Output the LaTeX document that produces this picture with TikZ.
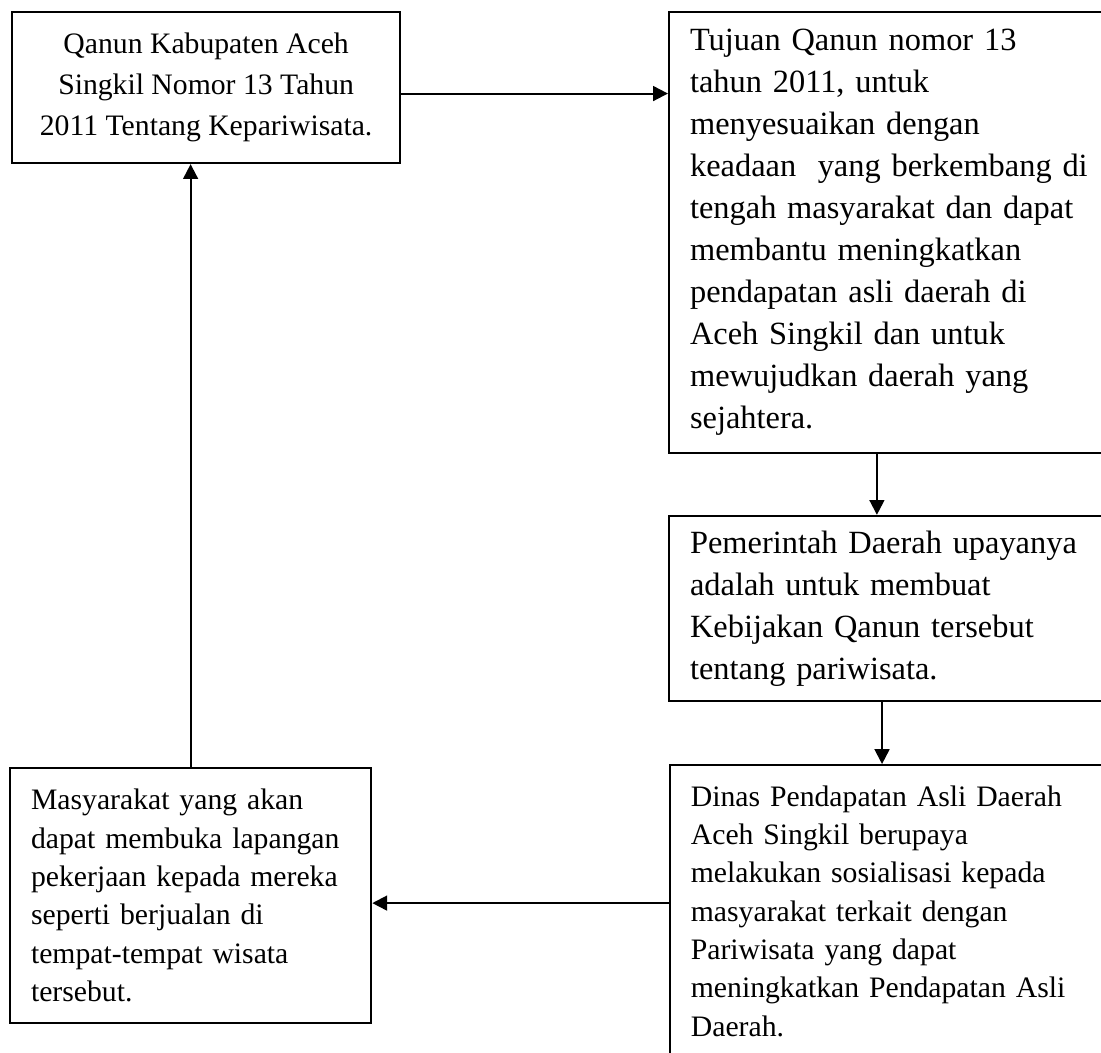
\documentclass[tikz,border=0pt]{standalone}
\usepackage{fontspec}
\setmainfont{Liberation Serif}
\usetikzlibrary{arrows.meta}
\tikzstyle{arrow} = [line width=0.75pt,-{Triangle[length=5.5pt,width=5.5pt]}]
\tikzstyle{kotak} = [draw, line width=0.8pt, anchor=north west, inner xsep=7.8pt, inner ysep=2pt]

\begin{document}
\begin{tikzpicture}[x=1pt,y=-1pt]
		\useasboundingbox (0,0) rectangle (407.8,390);
		\clip (0,0) rectangle (407.8,390);
		
		% Kotak:
		% Kotak kanan dibuat lebih lebar dari gambar, jadi sisi kanannya terpotong
		\node[kotak, minimum width=143.7pt, minimum height=55.9pt, align=center, font=\fontsize{11}{15.2}\selectfont] (qanun) at (4.1,4.1) {Qanun Kabupaten Aceh\\ Singkil Nomor 13 Tahun\\ 2011 Tentang Kepariwisata.};
		
		\node[kotak, text width=154.4pt, minimum height=163.3pt, align=left, font=\fontsize{12}{15.55}\selectfont] (tujuan) at (247.4,4.1) {Tujuan Qanun nomor 13\\ tahun 2011, untuk\\ menyesuaikan dengan\\ keadaan\ \ yang berkembang di\\ tengah masyarakat dan dapat\\ membantu meningkatkan\\ pendapatan asli daerah di\\ Aceh Singkil dan untuk\\ mewujudkan daerah yang\\ sejahtera.};
		
		\node[kotak, text width=154.4pt, minimum height=68.5pt, align=left, font=\fontsize{12}{15.55}\selectfont] (pemda) at (247.4,190.7) {Pemerintah Daerah upayanya\\ adalah untuk membuat\\ Kebijakan Qanun tersebut\\ tentang pariwisata.};
		
		\node[kotak, text width=154.4pt, minimum height=108.1pt, align=left, font=\fontsize{11}{14.2}\selectfont] (dinas) at (247.7,283) {Dinas Pendapatan Asli Daerah\\ Aceh Singkil berupaya\\ melakukan sosialisasi kepada\\ masyarakat terkait dengan\\ Pariwisata yang dapat\\ meningkatkan Pendapatan Asli\\ Daerah.};
		
		\node[kotak, text width=118.2pt, minimum height=94.4pt, align=left, font=\fontsize{11}{14.2}\selectfont] (masyarakat) at (3.3,284.1) {Masyarakat yang akan\\ dapat membuka lapangan\\ pekerjaan kepada mereka\\ seperti berjualan di\\ tempat-tempat wisata\\ tersebut.};
		
		% Panah:
		\coordinate (ab) at ([yshift=-2.2pt]qanun.east);
		\draw[arrow] (ab) -- (ab -| tujuan.west);
		
		\coordinate (bc) at ([xshift=77.4pt]tujuan.south west);
		\draw[arrow] (bc) -- (bc |- pemda.north);
		
		\coordinate (cd) at ([xshift=79.3pt]pemda.south west);
		\draw[arrow] (cd) -- (cd |- dinas.north);
		
		\coordinate (de) at ([yshift=-2.8pt]masyarakat.east);
		\draw[arrow] (de -| dinas.west) -- (de);
		
		\draw[arrow] (masyarakat.north) -- (masyarakat.north |- qanun.south);
		
\end{tikzpicture}
\end{document}
